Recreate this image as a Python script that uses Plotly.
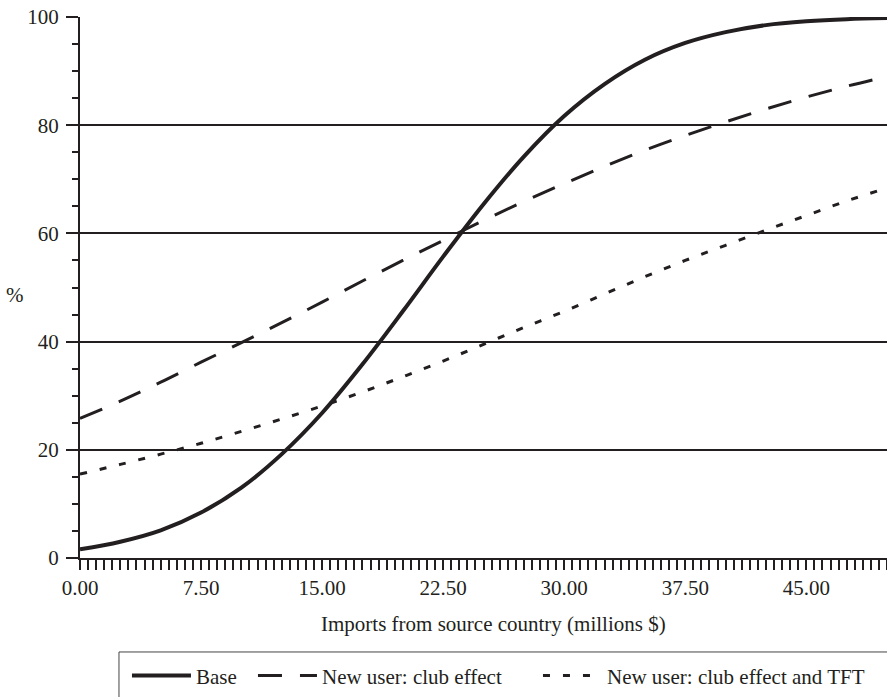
import plotly.graph_objects as go

x_vals = [0, 2.5, 5, 7.5, 10, 12.5, 15, 17.5, 20, 22.5, 25, 27.5, 30, 32.5, 35, 37.5, 40, 42.5, 45, 47.5, 50]
base = [1.6, 3.0, 5.1, 8.4, 13.0, 19.2, 26.8, 35.8, 45.6, 55.7, 65.4, 74.2, 81.7, 87.6, 92.1, 95.2, 97.2, 98.5, 99.2, 99.6, 99.8]
club = [25.8, 29.0, 32.5, 36.2, 39.8, 43.5, 47.3, 51.2, 55.0, 58.7, 62.4, 65.9, 69.2, 72.4, 75.4, 78.1, 80.6, 83.0, 85.2, 87.2, 89.0]
club_tft = [15.5, 17.3, 19.2, 21.2, 23.4, 25.7, 28.1, 30.7, 33.5, 36.4, 39.5, 42.6, 45.6, 48.8, 52.0, 55.0, 57.8, 60.6, 63.3, 66.0, 68.4]

series_names = ["Base", "New user: club effect", "New user: club effect and TFT"]
x_title = "Imports from source country (millions $)"
y_title = "%"

INK = "#231f20"
FONT = "Liberation Serif"

fig = go.Figure()
fig.add_trace(go.Scatter(x=x_vals, y=base, mode="lines", name=series_names[0],
                         line=dict(color=INK, width=4, shape="spline"), legendwidth=52))
fig.add_trace(go.Scatter(x=x_vals, y=club, mode="lines", name=series_names[1],
                         line=dict(color=INK, width=3, shape="spline", dash="24px,18px"), legendwidth=211))
fig.add_trace(go.Scatter(x=x_vals, y=club_tft, mode="lines", name=series_names[2],
                         line=dict(color=INK, width=3, shape="spline", dash="7px,13px")))

fig.update_layout(
    width=887, height=697,
    margin=dict(l=80, r=0, t=17, b=139),
    paper_bgcolor="white", plot_bgcolor="white",
    font=dict(family=FONT, size=21, color=INK),
    showlegend=True,
    legend=dict(orientation="h", x=0.0582, y=-0.18, xanchor="left", yanchor="top",
                itemwidth=59,
                bgcolor="rgba(0,0,0,0)", borderwidth=0, font=dict(family=FONT, size=21)),
    xaxis=dict(range=[0, 50], dtick=7.5, tick0=0, tickformat=".2f",
               ticks="outside", ticklen=10, tickwidth=2, tickcolor=INK,
               showline=True, linecolor=INK, linewidth=2, showgrid=False, zeroline=False,
               minor=dict(dtick=0.5, ticks="outside", ticklen=10, tickwidth=2, tickcolor=INK, showgrid=False)),
    yaxis=dict(range=[0, 100], dtick=20, tick0=0,
               ticks="outside", ticklen=12, tickwidth=2, tickcolor=INK, ticklabelstandoff=3,
               showline=True, linecolor=INK, linewidth=2,
               showgrid=True, gridcolor=INK, gridwidth=2, zeroline=False,
               minor=dict(dtick=5, ticks="outside", ticklen=6, tickwidth=2, tickcolor=INK, showgrid=False)),
    annotations=[
        dict(text=x_title, xref="paper", yref="paper", x=0.513, y=-0.122,
             xanchor="center", yanchor="middle", showarrow=False, font=dict(family=FONT, size=21)),
        dict(text=y_title, xref="paper", yref="paper", x=-0.0805, y=0.486,
             xanchor="center", yanchor="middle", showarrow=False, font=dict(family=FONT, size=21)),
    ],
    shapes=[dict(type="rect", xref="paper", yref="paper", x0=0.0483, x1=1.05, y0=-0.26, y1=-0.1737,
                 line=dict(color="#444444", width=1), fillcolor="rgba(0,0,0,0)", layer="above")],
)

fig.write_html("out.html", config={"displayModeBar": False})

with open("out.html", "r", encoding="utf-8") as f:
    html = f.read()
html = html.replace("<head>", "<head><style>html,body{margin:0;padding:0;overflow:hidden;}</style>", 1)
with open("out.html", "w", encoding="utf-8") as f:
    f.write(html)
